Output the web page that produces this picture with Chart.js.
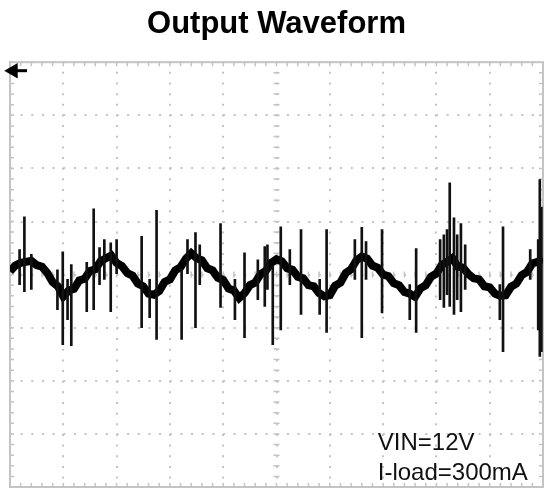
<!DOCTYPE html>
<html>
<head>
<meta charset="utf-8">
<script src="https://cdn.jsdelivr.net/npm/chart.js@4"></script>
<style>
  body { margin: 0; background: #fff; }
  canvas { display: block; }
</style>
</head>
<body>
<canvas id="scopeChart" width="546" height="489"></canvas>
<script>
// time axis in divisions (10 div across), volts in divisions (8 div high)
const traceTime = [
    0, 0.1, 0.2, 0.3, 0.4, 0.5, 0.6, 0.7, 0.8, 0.9,
    1.0, 1.1, 1.2, 1.3, 1.4, 1.5, 1.6, 1.7, 1.8, 1.9,
    2.0, 2.1, 2.2, 2.3, 2.4, 2.5, 2.6, 2.7, 2.8, 2.9,
    3.0, 3.1, 3.2, 3.3, 3.4, 3.5, 3.6, 3.7, 3.8, 3.9,
    4.0, 4.1, 4.2, 4.3, 4.4, 4.5, 4.6, 4.7, 4.8, 4.9,
    5.0, 5.1, 5.2, 5.3, 5.4, 5.5, 5.6, 5.7, 5.8, 5.9,
    6.0, 6.1, 6.2, 6.3, 6.4, 6.5, 6.6, 6.7, 6.8, 6.9,
    7.0, 7.1, 7.2, 7.3, 7.4, 7.5, 7.6, 7.7, 7.8, 7.9,
    8.0, 8.1, 8.2, 8.3, 8.4, 8.5, 8.6, 8.7, 8.8, 8.9,
    9.0, 9.1, 9.2, 9.3, 9.4, 9.5, 9.6, 9.7, 9.8, 9.9,
    10.0
];
const traceVolts = [
    0.06, 0.17, 0.22, 0.24, 0.26, 0.18, 0.15, 0.03, -0.14, -0.22,
    -0.41, -0.30, -0.27, -0.11, -0.08, 0.07, 0.10, 0.25, 0.31, 0.36,
    0.22, 0.16, 0.03, -0.02, -0.17, -0.22, -0.36, -0.38, -0.31, -0.14,
    -0.09, 0.08, 0.14, 0.30, 0.40, 0.31, 0.27, 0.12, 0.08, -0.06,
    -0.10, -0.26, -0.30, -0.44, -0.35, -0.20, -0.15, 0.01, 0.07, 0.22,
    0.29, 0.25, 0.12, 0.09, -0.04, -0.07, -0.20, -0.22, -0.35, -0.41,
    -0.39, -0.21, -0.15, 0.03, 0.10, 0.27, 0.34, 0.30, 0.17, 0.13,
    0.00, -0.03, -0.16, -0.20, -0.33, -0.36, -0.42, -0.26, -0.20, -0.04,
    0.02, 0.18, 0.24, 0.31, 0.15, 0.13, 0.01, -0.07, -0.09, -0.22,
    -0.24, -0.36, -0.40, -0.39, -0.23, -0.17, -0.01, 0.05, 0.21, 0.24,
    0.30
];

// switching spikes: position, top, bottom
const spikeTime = [
    0.27, 0.99, 1.15, 1.44, 1.57, 1.89, 2.47, 2.75, 3.22, 3.48,
    3.95, 4.40, 4.78, 4.93, 5.08, 5.46, 5.94, 6.60, 6.98, 7.62,
    8.14, 8.25, 8.33, 8.46, 9.25, 9.91, 9.94, 9.97,
    0.18, 0.40, 0.89, 1.08, 1.68, 1.77, 2.00, 2.62, 3.33, 3.56,
    4.22, 4.65, 4.83, 5.25, 5.81, 6.47, 6.68, 7.50, 8.07, 8.20,
    8.39, 8.54, 9.19, 9.76
];
const spikeHigh = [
    1.09, 0.43, 0.19, 0.23, 1.24, 0.60, 0.72, 1.21, 0.10, 0.79,
    0.96, 0.41, 0.53, 0.15, 0.90, 0.85, 0.85, 0.89, 0.85, 0.49,
    0.75, 1.73, 1.07, 0.96, 0.90, 0.66, 1.79, 1.27,
    0.47, 0.38, 0.09, -0.09, 0.51, 0.66, 0.66, -0.09, 0.66, 0.56,
    -0.09, 0.28, 0.56, 0.47, -0.09, 0.66, 0.62, -0.19, 0.66, 0.85,
    0.75, 0.56, -0.19, 0.47
];
const spikeLow = [
    -0.32, -1.32, -1.34, -0.70, -0.66, -0.70, -1.00, -1.22, -1.22, -1.00,
    -0.62, -1.19, -0.60, -1.32, -1.04, -0.75, -1.09, -1.19, -0.72, -1.09,
    -0.62, -0.60, -0.75, -0.70, -1.45, -1.04, -1.54, -1.45,
    -0.19, -0.28, -0.66, -0.85, -0.19, -0.09, 0.00, -0.81, 0.00, -0.19,
    -0.85, -0.47, -0.28, -0.19, -0.75, -0.09, -0.09, -0.85, -0.47, -0.38,
    -0.47, -0.28, -0.85, -0.09
];

const notes = ['VIN=12V', 'I-load=300mA'];
const noteTime = 6.9;
const noteVolts = [-3.30, -3.87];

const traceData = traceTime.map((t, i) => ({ x: t, y: traceVolts[i] }));
const spikeData = spikeTime.map((t, i) => ({ x: t, y: [spikeLow[i], spikeHigh[i]] }));

// small graticule ticks on the frame and the centre cross, plus the notes
const graticule = {
    id: 'graticule',
    beforeDatasetsDraw(chart) {
        const { ctx, chartArea: a, scales: { x, y } } = chart;
        ctx.save();
        ctx.strokeStyle = '#c4c4c4';
        ctx.lineWidth = 2;
        ctx.strokeRect(a.left, a.top, a.right - a.left, a.bottom - a.top);
        ctx.lineWidth = 1.5;
        ctx.beginPath();
        const cx = x.getPixelForValue(5), cy = y.getPixelForValue(0);
        for (let i = 1; i < 50; i++) {
            const px = x.getPixelForValue(i * 0.2);
            ctx.moveTo(px, a.top); ctx.lineTo(px, a.top + 4);
            ctx.moveTo(px, a.bottom); ctx.lineTo(px, a.bottom - 4);
            ctx.moveTo(px, cy - 3); ctx.lineTo(px, cy + 3);
        }
        for (let i = 1; i < 40; i++) {
            const py = y.getPixelForValue(-4 + i * 0.2);
            ctx.moveTo(a.left, py); ctx.lineTo(a.left + 4, py);
            ctx.moveTo(a.right, py); ctx.lineTo(a.right - 4, py);
            ctx.moveTo(cx - 3, py); ctx.lineTo(cx + 3, py);
        }
        ctx.stroke();
        ctx.restore();
    },
    afterDatasetsDraw(chart) {
        const { ctx, scales: { x, y } } = chart;
        ctx.save();
        ctx.fillStyle = '#111';
        ctx.font = '24px "Liberation Sans", Arial, sans-serif';
        ctx.textAlign = 'left';
        ctx.textBaseline = 'alphabetic';
        notes.forEach((n, i) => {
            ctx.fillText(n, x.getPixelForValue(noteTime), y.getPixelForValue(noteVolts[i]));
        });
        ctx.restore();
    }
};

const scopeCtx = document.getElementById('scopeChart').getContext('2d');
const scopeChart = new Chart(scopeCtx, {
    type: 'line',
    data: {
        datasets: [{
            type: 'bar',
            label: 'Spikes',
            data: spikeData,
            backgroundColor: '#111',
            borderWidth: 0,
            barThickness: 2,
            grouped: false,
            order: 0
        }, {
            type: 'line',
            label: 'Output',
            data: traceData,
            borderColor: '#000',
            borderWidth: 8,
            pointRadius: 0,
            tension: 0,
            order: 1
        }, {
            type: 'line',
            label: 'Trigger',
            data: [{ x: 0.06, y: 3.84 }, { x: 0.32, y: 3.84 }],
            borderColor: '#000',
            backgroundColor: '#000',
            borderWidth: 3,
            pointStyle: 'triangle',
            pointRadius: [6, 0],
            rotation: 270,
            clip: false,
            order: 2
        }]
    },
    plugins: [graticule],
    options: {
        responsive: false,
        animation: false,
        layout: {
            autoPadding: false,
            padding: { left: 10, right: 3, top: 0, bottom: 2 }
        },
        plugins: {
            legend: { display: false },
            tooltip: { enabled: false },
            title: {
                display: true,
                text: 'Output Waveform',
                color: '#000',
                font: { family: '"Liberation Sans", Arial, sans-serif', size: 31, weight: 'bold' },
                padding: { top: 6, bottom: 19 }
            }
        },
        scales: {
            x: {
                type: 'linear',
                min: 0,
                max: 10,
                offset: false,
                ticks: { display: false, stepSize: 1 },
                grid: { color: '#c4c4c4', lineWidth: 2, drawTicks: false, offset: false },
                border: { color: '#c4c4c4', width: 2, dash: [2, 8.65], dashOffset: 1 },
                afterFit(s) { s.height = 0; s.paddingLeft = 0; s.paddingRight = 0; }
            },
            y: {
                min: -4,
                max: 4,
                ticks: { display: false, stepSize: 1 },
                grid: { color: '#c4c4c4', lineWidth: 2, drawTicks: false },
                border: { color: '#c4c4c4', width: 2, dash: [2, 8.65], dashOffset: 1 },
                afterFit(s) { s.width = 0; s.paddingTop = 0; s.paddingBottom = 0; }
            }
        }
    }
});
</script>
</body>
</html>
